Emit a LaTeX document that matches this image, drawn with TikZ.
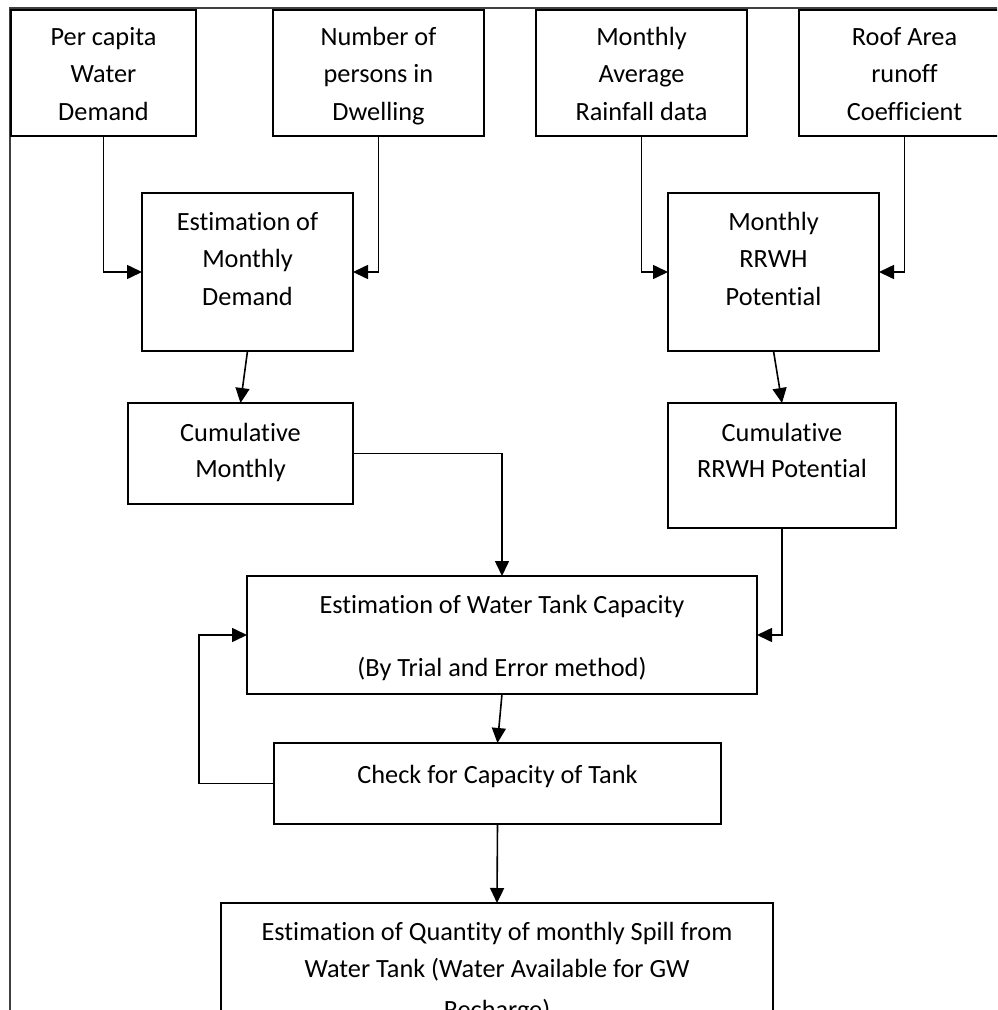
\documentclass[tikz,border=0pt]{standalone}
\usepackage{fontspec}
\setmainfont{Carlito}[Ligatures={NoCommon}]
\usetikzlibrary{arrows.meta}
\newcommand\bxt[4]{\parbox[t][#2pt][t]{#1pt}{\centering\rule{0pt}{#3pt}#4}}
\tikzset{
  box/.style={draw, line width=1.6pt, inner sep=0pt, outer sep=0pt, anchor=north west, font=\fontsize{26.3}{37.5}\selectfont},
  tightbox/.style={box, font=\fontsize{26.3}{35.5}\selectfont},
  arr/.style={-{Triangle[length=15pt,width=14pt]}, line width=1.6pt},
  framed/.style={line width=1.4pt, draw=black!75}
}
\begin{document}
\begin{tikzpicture}[x=1pt,y=-1pt]
\useasboundingbox (0,0) rectangle (997,1010);
\clip (0,0) rectangle (997,1010);
\fill[white] (0,0) rectangle (997,1010);
\draw[framed] (10,1020) -- (10,8) -- (1010,8);
\node[box] (b1) at (11,10) {\bxt{185}{126}{35}{Per capita\\Water\\Demand}};
\node[box] (b2) at (273,10) {\bxt{211}{126}{35}{Number of\\persons in\\Dwelling}};
\node[box] (b3) at (536,10) {\bxt{211}{126}{35}{Monthly\\Average\\Rainfall data}};
\node[box] (b4) at (799,10) {\bxt{211}{126}{35}{Roof Area\\runoff\\Coefficient}};
\fill[white] (274.5,124.5) rectangle (483,135);
\node[box] (b5) at (142,193) {\bxt{211}{158}{37}{Estimation of\\Monthly\\Demand}};
\node[box] (b6) at (668,193) {\bxt{211}{158}{37}{Monthly\\RRWH\\Potential}};
\node[tightbox] (b7) at (128,403) {\bxt{225}{101}{38.5}{Cumulative\\Monthly}};
\node[tightbox] (b9) at (668,403) {\bxt{228}{125}{38.5}{Cumulative\\RRWH Potential}};
\node[box] (b8) at (247,576) {\bxt{510}{118}{37}{Estimation of Water Tank Capacity\\[26pt](By Trial and Error method)}};
\node[box] (b10) at (274,743) {\bxt{447}{81}{40}{Check for Capacity of Tank}};
\node[box, font=\fontsize{26.3}{37}\selectfont] (b11) at (221,903) {\bxt{552}{150}{37}{Estimation of Quantity of monthly Spill from\\Water Tank (Water Available for GW\\[4pt]Recharge)}};
\draw[arr] (b1.south) |- (b5.west);
\draw[arr] (b2.south) |- (b5.east);
\draw[arr] (b3.south) |- (b6.west);
\draw[arr] (b4.south) |- (b6.east);
\draw[arr] (b5.south) -- (b7.north);
\draw[arr] (b6.south) -- (b9.north);
\draw[arr] (b7.east) -| (b8.north);
\draw[arr] (b9.south) |- (b8.east);
\draw[arr] (b8.south) -- (b10.north);
\draw[arr] (b10.west) -- ++(-75,0) |- (b8.west);
\draw[arr] (b10.south) -- (b11.north);
\end{tikzpicture}
\end{document}
